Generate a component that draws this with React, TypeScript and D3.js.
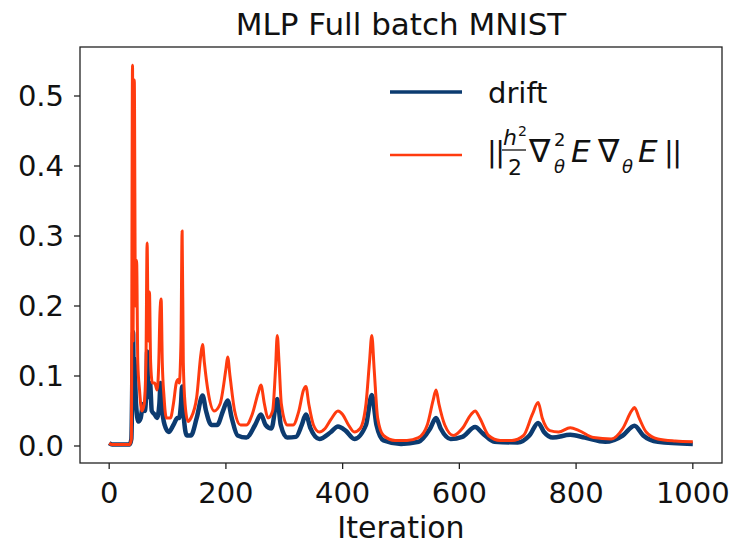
import React, { useRef, useEffect } from 'react'
import { select, scaleLinear, line, curveMonotoneX, range } from 'd3'

const driftIter = [0, 5, 35, 38, 41, 42, 43, 46, 50, 54, 58, 61, 64, 65, 67, 70, 73, 78, 82, 86, 88, 90, 95, 102, 110, 117, 120, 123, 125, 128, 133, 140, 150, 160, 166, 175, 185, 195, 203, 210, 220, 235, 250, 260, 268, 278, 288, 294, 305, 320, 330, 337, 345, 360, 380, 392, 405, 420, 440, 450, 458, 470, 500, 530, 550, 560, 568, 585, 605, 627, 640, 660, 700, 720, 735, 745, 760, 790, 815, 850, 880, 900, 915, 940, 1000]
const driftVal = [0.004, 0.002, 0.002, 0.01, 0.163, 0.09, 0.125, 0.06, 0.035, 0.04, 0.06, 0.05, 0.09, 0.135, 0.07, 0.09, 0.05, 0.045, 0.04, 0.06, 0.09, 0.06, 0.03, 0.02, 0.03, 0.04, 0.04, 0.06, 0.085, 0.04, 0.015, 0.015, 0.04, 0.072, 0.05, 0.03, 0.03, 0.05, 0.065, 0.04, 0.015, 0.012, 0.03, 0.045, 0.03, 0.025, 0.067, 0.03, 0.012, 0.013, 0.03, 0.045, 0.025, 0.01, 0.02, 0.028, 0.022, 0.01, 0.03, 0.073, 0.03, 0.008, 0.003, 0.006, 0.025, 0.04, 0.025, 0.01, 0.013, 0.027, 0.018, 0.006, 0.005, 0.015, 0.033, 0.02, 0.012, 0.016, 0.012, 0.006, 0.015, 0.029, 0.015, 0.006, 0.003]

const normIter = [0, 5, 35, 38, 40, 41, 42, 43, 45, 47, 49, 52, 56, 60, 63, 65, 67, 69, 71, 74, 78, 82, 85, 87, 89, 91, 94, 98, 105, 110, 115, 118, 120, 123, 125, 127, 130, 135, 140, 150, 157, 160, 163, 170, 180, 190, 200, 203, 207, 215, 225, 235, 245, 255, 260, 266, 272, 280, 285, 288, 291, 295, 305, 315, 325, 333, 337, 342, 350, 360, 370, 380, 392, 400, 410, 420, 430, 440, 446, 450, 454, 460, 470, 490, 510, 530, 545, 555, 560, 565, 575, 590, 605, 620, 627, 635, 650, 670, 690, 710, 725, 735, 742, 755, 770, 790, 805, 830, 860, 880, 895, 900, 908, 920, 940, 970, 1000]
const normVal = [0.004, 0.002, 0.002, 0.01, 0.544, 0.15, 0.4, 0.523, 0.2, 0.265, 0.12, 0.08, 0.05, 0.06, 0.12, 0.29, 0.15, 0.22, 0.12, 0.09, 0.09, 0.08, 0.12, 0.19, 0.21, 0.12, 0.07, 0.04, 0.04, 0.06, 0.09, 0.095, 0.09, 0.15, 0.307, 0.12, 0.06, 0.035, 0.04, 0.07, 0.13, 0.145, 0.12, 0.075, 0.05, 0.06, 0.11, 0.127, 0.1, 0.05, 0.03, 0.03, 0.045, 0.075, 0.087, 0.06, 0.04, 0.05, 0.11, 0.158, 0.12, 0.06, 0.03, 0.03, 0.05, 0.08, 0.085, 0.06, 0.03, 0.02, 0.025, 0.038, 0.05, 0.045, 0.03, 0.02, 0.025, 0.06, 0.12, 0.158, 0.11, 0.04, 0.015, 0.008, 0.008, 0.012, 0.03, 0.065, 0.08, 0.06, 0.03, 0.015, 0.025, 0.045, 0.05, 0.04, 0.015, 0.008, 0.008, 0.015, 0.045, 0.062, 0.04, 0.022, 0.02, 0.026, 0.022, 0.012, 0.01, 0.025, 0.05, 0.055, 0.04, 0.02, 0.01, 0.007, 0.006]

const xTicks = [0, 200, 400, 600, 800, 1000]
const yTicks = [0.0, 0.1, 0.2, 0.3, 0.4, 0.5]

const BLUE = '#0c3b70'
const RED = '#ff3b0f'

function App() {
  const ref = useRef(null)
  const width = 741, height = 549
  const margin = { top: 47, right: 19, bottom: 86, left: 80 }

  useEffect(() => {
    const svg = select(ref.current)
    svg.selectAll('*').remove()
    const font = 'DejaVu Sans'

    const x = scaleLinear().domain([-50, 1050]).range([margin.left, width - margin.right])
    const y = scaleLinear().domain([-0.0243, 0.570]).range([height - margin.bottom, margin.top])

    const lineGen = line<number>()
      .x(d => x(d[0]))
      .y(d => y(d[1]))
      .curve(curveMonotoneX)

    const drift = range(driftIter.length).map(i => [driftIter[i], driftVal[i]])
    const norm = range(normIter.length).map(i => [normIter[i], normVal[i]])

    // drift first (thicker), then the norm on top
    svg.append('path')
      .datum(drift)
      .attr('d', lineGen as any)
      .attr('fill', 'none')
      .attr('stroke', BLUE)
      .attr('stroke-width', 4.5)
      .attr('stroke-linejoin', 'round')

    svg.append('path')
      .datum(norm)
      .attr('d', lineGen as any)
      .attr('fill', 'none')
      .attr('stroke', RED)
      .attr('stroke-width', 3)
      .attr('stroke-linejoin', 'round')

    // frame
    svg.append('rect')
      .attr('x', margin.left)
      .attr('y', margin.top)
      .attr('width', width - margin.left - margin.right)
      .attr('height', height - margin.top - margin.bottom)
      .attr('fill', 'none')
      .attr('stroke', '#222')
      .attr('stroke-width', 1.3)

    const y0 = height - margin.bottom
    xTicks.forEach(t => {
      svg.append('line')
        .attr('x1', x(t)).attr('x2', x(t))
        .attr('y1', y0).attr('y2', y0 + 6)
        .attr('stroke', '#222').attr('stroke-width', 1.3)
      svg.append('text')
        .attr('x', x(t)).attr('y', 503)
        .attr('text-anchor', 'middle')
        .style('font-family', font).style('font-size', '29px')
        .attr('fill', '#111')
        .text(t)
    })

    yTicks.forEach(t => {
      svg.append('line')
        .attr('x1', margin.left - 6).attr('x2', margin.left)
        .attr('y1', y(t)).attr('y2', y(t))
        .attr('stroke', '#222').attr('stroke-width', 1.3)
      svg.append('text')
        .attr('x', margin.left - 16).attr('y', y(t))
        .attr('dy', '0.36em')
        .attr('text-anchor', 'end')
        .style('font-family', font).style('font-size', '29px')
        .attr('fill', '#111')
        .text(t.toFixed(1))
    })

    svg.append('text')
      .attr('x', (margin.left + width - margin.right) / 2).attr('y', 538)
      .attr('text-anchor', 'middle')
      .style('font-family', font).style('font-size', '30px')
      .attr('fill', '#111')
      .text('Iteration')

    svg.append('text')
      .attr('x', (margin.left + width - margin.right) / 2).attr('y', 35)
      .attr('text-anchor', 'middle')
      .style('font-family', font).style('font-size', '31px')
      .attr('fill', '#111')
      .text('MLP Full batch MNIST')

    // legend
    const leg = svg.append('g').style('font-family', font).attr('fill', '#111')
    leg.append('line').attr('x1', 390).attr('x2', 462).attr('y1', 92).attr('y2', 92)
      .attr('stroke', BLUE).attr('stroke-width', 3.5)
    leg.append('line').attr('x1', 390).attr('x2', 462).attr('y1', 155).attr('y2', 155)
      .attr('stroke', RED).attr('stroke-width', 2.4)
    leg.append('text').attr('x', 488).attr('y', 103).style('font-size', '29px').text('drift')

    // mathtext label, placed glyph by glyph; never let one start before the previous ends
    const glyph = (s, gx, gy, size, italic = false, after = null) => {
      let px = gx
      if (after) px = Math.max(gx, after + 1)
      const t = leg.append('text').attr('x', px).attr('y', gy)
        .style('font-size', size + 'px')
        .style('font-style', italic ? 'italic' : 'normal')
        .text(s)
      if (s === '||') t.attr('letter-spacing', '-1.5px')
      return px + (t.node() as any).getComputedTextLength()
    }
    glyph('||', 487, 162, 29)
    const h = glyph('h', 503, 145, 22, true)
    glyph('2', 515, 136, 14, false, h)
    leg.append('line').attr('x1', 502).attr('x2', 526).attr('y1', 150).attr('y2', 150)
      .attr('stroke', '#111').attr('stroke-width', 1.3)
    glyph('2', 508, 175, 22)
    let e = glyph('\u2207', 529, 162, 32)
    const s1 = glyph('2', 554, 146, 18, false, e - 3)
    const s2 = glyph('\u03b8', 554, 173, 18, true, e - 3)
    e = glyph('E', 571, 162, 31, true, Math.max(s1, s2))
    e = glyph('\u2207', 598, 162, 32, false, e)
    e = glyph('\u03b8', 622, 173, 18, true, e - 3)
    e = glyph('E', 638, 162, 31, true, e)
    glyph('||', 664, 162, 29, false, e - 2)
  }, [])

  return (
    <svg ref={ref} width={width} height={height}
      style={{ position: 'absolute', left: 0, top: 0, background: '#fff' }} />
  )
}

export default App
